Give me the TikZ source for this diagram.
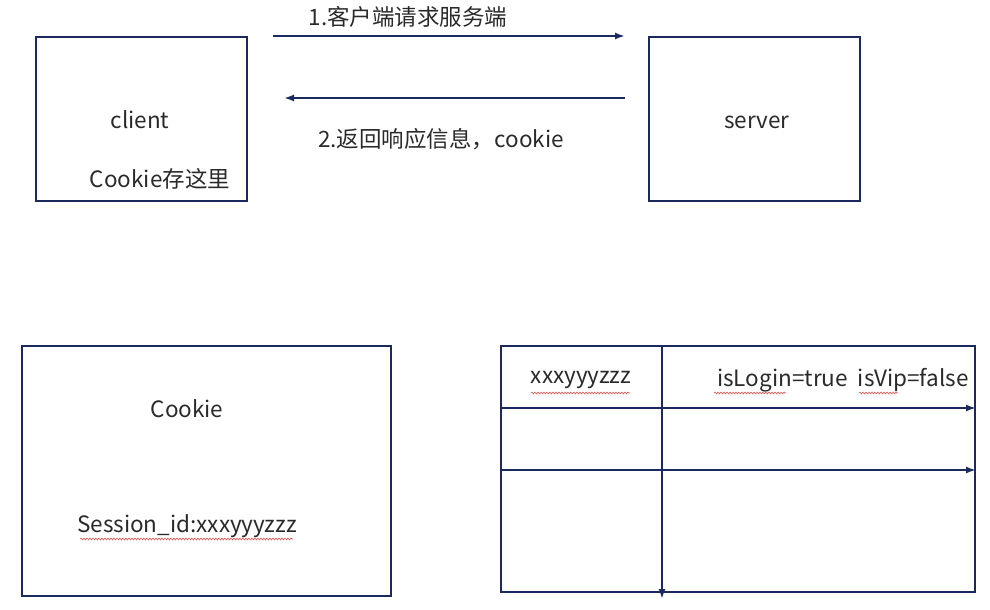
\documentclass[tikz,border=0pt]{standalone}
\usepackage{fontspec}
\setmainfont{Noto Sans CJK SC}
\usepackage{xcolor}
\usetikzlibrary{positioning,arrows.meta,calc,decorations.pathmorphing}
\definecolor{BoxNavy}{HTML}{1B2A5E}
\definecolor{TextGray}{HTML}{2A2A2A}
\definecolor{SpellRed}{HTML}{D9534F}

\begin{document}
\begin{tikzpicture}[x=1pt,y=-1pt,
    every node/.style={font=\fontsize{22.5}{27}\selectfont, text=TextGray},
    box/.style={draw=BoxNavy, line width=2pt, inner sep=0pt},
    flow/.style={draw=BoxNavy, line width=1.8pt, -{Latex[length=10pt,width=7pt]}},
    wavy/.style={draw=SpellRed, line width=0.6pt,
      decorate, decoration={snake, amplitude=0.9pt, segment length=3pt}}]
  \useasboundingbox (0,0) rectangle (990,610);
  % top: client and server
  \node[box, minimum width=211pt, minimum height=164pt] (client) at (141.5,119) {};
  \node[box, minimum width=211pt, minimum height=164pt] (server) at (754.5,119) {};
  \node (clientname) at (140,120) {client};
  \node (clientstore) at (160,179) {Cookie存这里};
  \node (servername) at (757,122) {server};
  \coordinate (reqstart) at ($(client.north east)+(25,0)$);
  \coordinate (reqend) at ($(server.north west)+(-23,0)$);
  \coordinate (respstart) at ($(server.west)+(-23,-21)$);
  \coordinate (respend) at ($(client.east)+(36,-21)$);
  \draw[flow] (reqstart) -- (reqend);
  \draw[flow] (respstart) -- (respend);
  \node (reqlabel) at (408,17) {1.客户端请求服务端};
  \node (resplabel) at (441,139) {2.返回响应信息，cookie};
  % bottom left: cookie
  \node[box, minimum width=369pt, minimum height=250pt] (cookie) at (206.5,471) {};
  \node (cookietitle) at (187,409) {Cookie};
  \node (sessionid) at (187,526) {Session\_id:xxxyyyzzz};
  \draw[wavy] (80,539) -- (293,539);
  % bottom right: session table
  \node[box, minimum width=474pt, minimum height=246pt] (store) at (738,469) {};
  \coordinate (coltop) at (store.north -| 662,0);
  \coordinate (colend) at ($(store.south -| 662,0)+(0,6)$);
  \draw[flow] (coltop) -- (colend);
  \foreach \y/\name in {408/rowa,470/rowb}{
    \coordinate (\name start) at (store.west |- 0,\y);
    \coordinate (\name end) at (store.east |- 0,\y);
    \draw[flow] (\name start) -- (\name end);
  }
  \node (sid) at (581,380) {xxxyyyzzz};
  \node (attrs) at (843,380) {isLogin=true\hspace{10pt}isVip=false};
  \draw[wavy] (531,393) -- (630,393);
  \draw[wavy] (714,393) -- (786,393);
  \draw[wavy] (859,393) -- (898,393);
\end{tikzpicture}
\end{document}
